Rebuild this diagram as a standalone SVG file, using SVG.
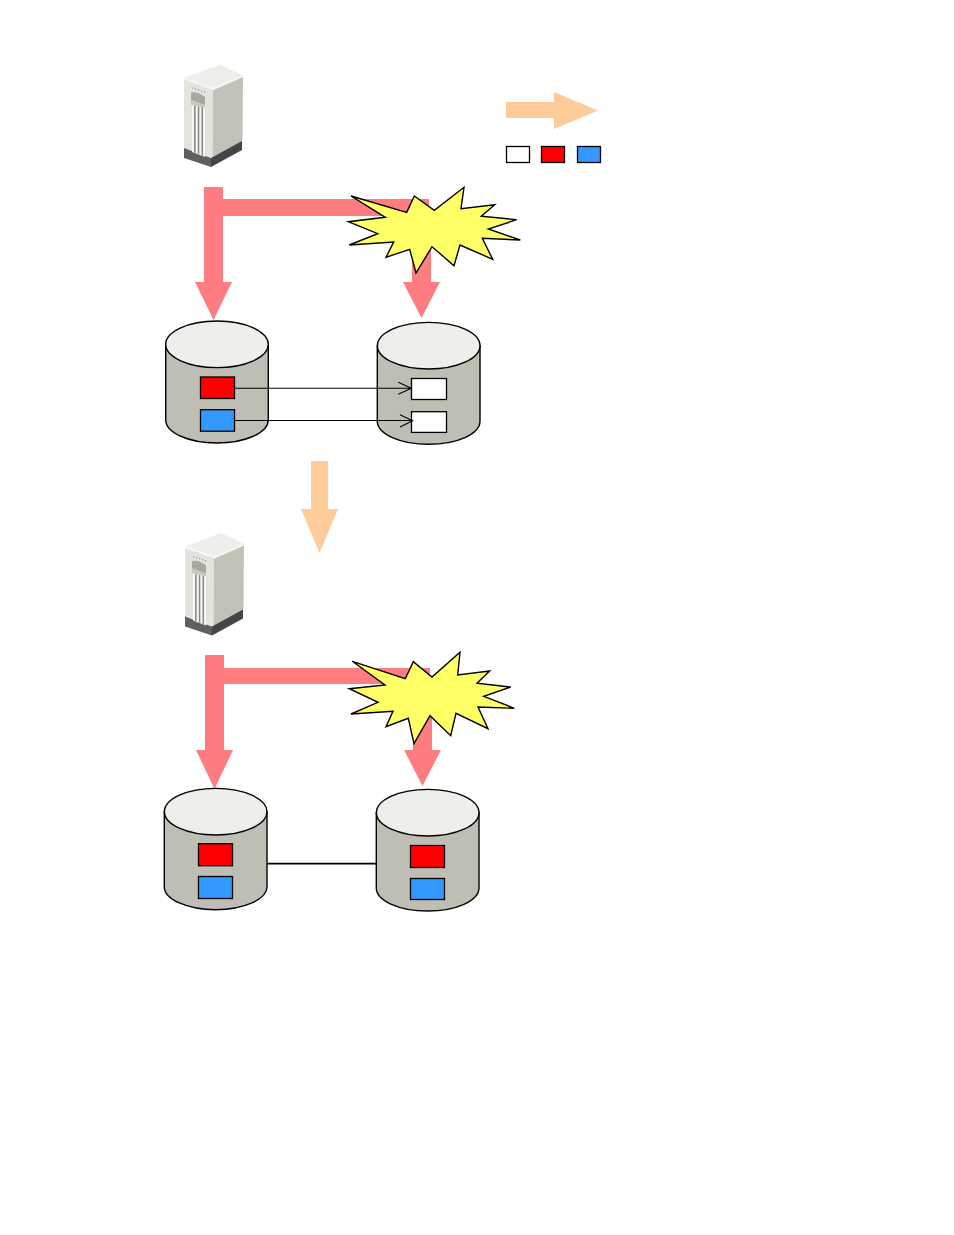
<svg xmlns="http://www.w3.org/2000/svg" xmlns:xlink="http://www.w3.org/1999/xlink" width="954" height="1235" viewBox="0 0 954 1235">
<style>
.pipe{fill:#ff7c80}
.flow{fill:#ffcc99}
.star{fill:#ffff66;stroke:#000;stroke-width:1.4;stroke-linejoin:miter}
.side{fill:#bebeb4;stroke:#000;stroke-width:1.4}
.cap{fill:#eeefea;stroke:#000;stroke-width:1.4}
.vol{stroke:#000;stroke-width:1.3}
.red{fill:#ff0000}
.blue{fill:#3399ff}
.white{fill:#ffffff}
.link{fill:none;stroke:#000;stroke-width:1.1}
</style>
<defs>
<g id="server-art">
<path fill="#eeeeea" d="M184 78L220 64.500L243 75.500L213 88.500Z"/>
<path fill="#e4e4de" d="M184 78L213 89L212.500 158L184 148Z"/>
<path fill="#c2c2b9" d="M213 89L243 76L242.500 141L212.500 158Z"/>
<path fill="#f8f8f5" d="M184 77.500L213 88L243 75.500L243 77L213.500 90L184 79.500Z"/>
<path fill="#606060" d="M184 148L211 158L211 167L184 158Z"/>
<path fill="#454545" d="M211 158L242 141L242 150L211 167Z"/>
<path fill="#a8a8a0" d="M191 92.500Q198 91 205 97L205 105L191 100Z"/>
<path fill="#c8c8c0" d="M191 100L205 105L205 108L191 105Z"/>
<path fill="#f6f6f2" d="M192 105L205 108L205 157L192 152Z"/>
<path fill="#8a8a82" d="M194 105.500L195.600 106V153L194 152.500Z"/>
<path fill="#8a8a82" d="M197.800 106.300L199.300 106.700V154.500L197.800 154Z"/>
<path fill="#8a8a82" d="M201.500 107L203 107.400V156L201.500 155.500Z"/>
<path fill="#9a9a92" d="M192 87.500h1.200v1.200h-1.200zM195 88.500h1.200v1.200h-1.200zM198 89.500h1.200v1.200h-1.200zM201 90.500h1.200v1.200h-1.200zM204 91.500h1.200v1.200h-1.200z"/>
</g>
</defs>
<g id="connectors">
<path class="pipe" d="M204 187H223V199H429V216H431V282H440L421.500 318L403 282H412V216H223V282H232L213.500 320L195 282H204Z"/>
<path class="pipe" d="M205 655H224V668H430V684H432V750H441L422.500 786L404 750H413V684H224V750H233L214.500 789L196 750H205Z"/>
<path class="flow" d="M311 461H328V509H338L319.500 553L301 509H311Z"/>
<path class="flow" d="M506 102H554V92L598 110.500L554 129V118H506Z"/>
</g>
<g id="server-top"><use xlink:href="#server-art" href="#server-art"/></g>
<g id="server-bottom"><use xlink:href="#server-art" href="#server-art" transform="translate(1 468.500)"/></g>
<g id="outage-top"><polygon class="star" points="351,196 406.700,212.300 414.300,196 434.300,210.300 464,187.300 461,208.700 494.700,204.700 481.300,216.300 516.700,219.700 488.300,229 520.300,240 482.300,238.300 492.700,259.300 460,245 454,265.700 432,246.700 416,273 409.700,249.300 386,257.300 393.700,242 349.300,245 377.700,233.700 348.300,221.700 385.300,217.300"/></g>
<g id="outage-bottom"><polygon class="star" points="352.300,661.300 405.300,678.700 413.300,661.700 432,677 460,652.300 457.700,675 489.700,671 477,683.300 510.700,687 483.700,696.300 514.300,708.300 478,707 488,728.700 456,713.300 450.700,735.700 430,715.700 414,743.700 408.300,718.300 386,726.700 393,711.300 351,714 378,702.300 349.300,688.700 385,685"/></g>
<g id="disk-a-top">
<path class="side" d="M165.700 344.300V420A51.300 23 0 0 0 268.300 420V344.300Z"/>
<ellipse class="cap" cx="217" cy="344.300" rx="51.300" ry="23.300"/>
<rect class="vol red" x="200.500" y="377" width="34" height="21.500"/>
<rect class="vol blue" x="200.500" y="409.700" width="34" height="21.500"/>
</g>
<g id="disk-b-top">
<path class="side" d="M377.300 345.700V421.300A51.300 23 0 0 0 480 421.300V345.700Z"/>
<ellipse class="cap" cx="428.700" cy="345.700" rx="51.300" ry="23.300"/>
<rect class="vol white" x="411.500" y="378.500" width="35" height="21"/>
<rect class="vol white" x="411.500" y="411.700" width="35" height="20.700"/>
</g>
<g id="disk-a-bottom">
<path class="side" d="M164.300 811.700V886.700A51.300 23 0 0 0 267 886.700V811.700Z"/>
<ellipse class="cap" cx="215.700" cy="811.700" rx="51.300" ry="23.300"/>
<rect class="vol red" x="198.500" y="843.700" width="34" height="22"/>
<rect class="vol blue" x="198.500" y="876.500" width="34" height="22"/>
</g>
<g id="disk-b-bottom">
<path class="side" d="M376.300 812.700V888A51.300 23 0 0 0 479 888V812.700Z"/>
<ellipse class="cap" cx="427.700" cy="812.700" rx="51.300" ry="23.300"/>
<rect class="vol red" x="410.500" y="845.500" width="34" height="22"/>
<rect class="vol blue" x="410.500" y="878.500" width="34" height="21"/>
</g>
<g id="replication">
<path class="link" d="M234.500 388.300H411.300M398.300 382.300L411.300 388.300L398.300 394.300"/>
<path class="link" d="M234.500 420.500H412.700M400 414.700L412.700 420.700L400 427"/>
<path class="link" style="stroke-width:1.800" d="M267 863.700H376.300"/>
</g>
<g id="legend">
<rect class="vol white" x="506.500" y="146.500" width="23" height="16"/>
<rect class="vol red" x="541.500" y="146.500" width="23" height="16"/>
<rect class="vol blue" x="577.500" y="146.500" width="23" height="16"/>
</g>
</svg>
